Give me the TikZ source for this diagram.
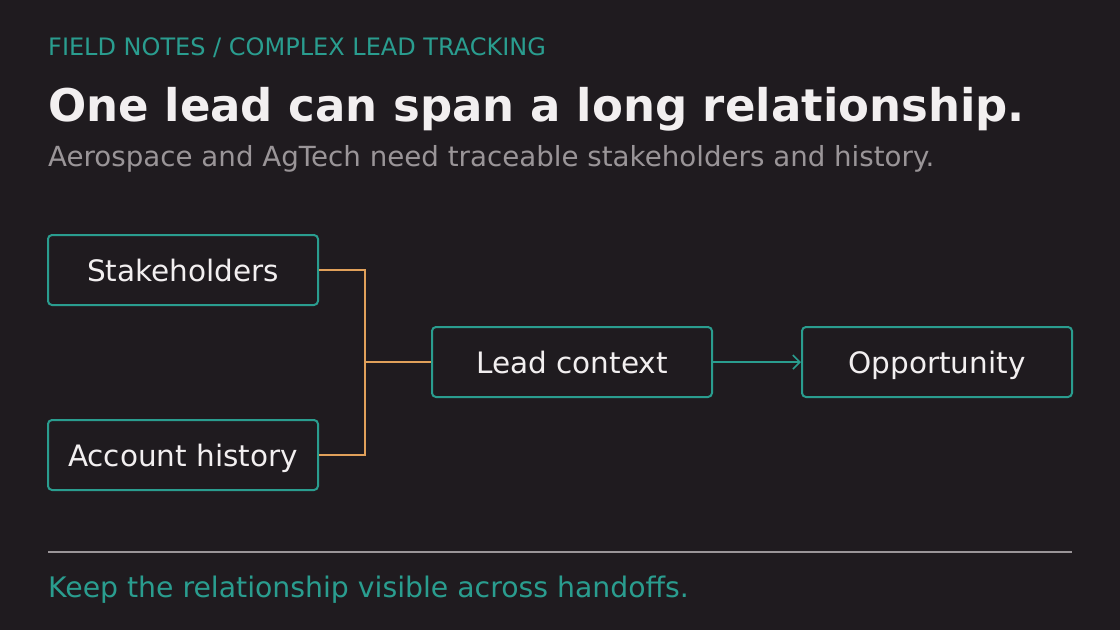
\documentclass[tikz,border=0pt]{standalone}
\usepackage{fontspec}
\setmainfont{DejaVu Sans}
\usetikzlibrary{arrows.meta,positioning}
\definecolor{nbg}{HTML}{1F1B1F}
\definecolor{nteal}{HTML}{2A9D8F}
\definecolor{norange}{HTML}{E0A05A}
\definecolor{ngray}{HTML}{9A9598}
\definecolor{nwhite}{HTML}{F2EFF0}

\begin{document}
\begin{tikzpicture}[x=1pt,y=-1pt,
  box/.style={draw=nteal,line width=2pt,rounded corners=4pt,minimum width=270pt,
              minimum height=70pt,inner sep=0pt,text=nwhite,text height=24pt,text depth=2pt,
              font=\fontsize{29.5}{32}\selectfont},
  txt/.style={anchor=base west,inner sep=0pt},
  link/.style={draw=norange,line width=1.6pt}
]
\fill[nbg] (0,0) rectangle (1120,630);
\useasboundingbox (0,0) rectangle (1120,630);

% ---- Heading ------------------------------------------------
\node[txt,text=nteal,font=\fontsize{24}{26}\selectfont] (kicker) at (48,55)
  {FIELD NOTES / COMPLEX LEAD TRACKING};
\node[txt,text=nwhite,font=\fontsize{45}{50}\selectfont\bfseries] (title) at (48,121)
  {One lead can span a long relationship.};
\node[txt,text=ngray,font=\fontsize{27.7}{30}\selectfont] (sub) at (48,166)
  {Aerospace and AgTech need traceable stakeholders and history.};

% ---- Boxes --------------------------------------------------
\node[box] (stake) at (183,270) {Stakeholders};
\node[box] (hist)  at (183,455) {Account history};
\node[box,minimum width=280pt] (lead) at (572,362) {Lead context};
\node[box] (opp)   at (937,362) {Opportunity};

% ---- Connectors ---------------------------------------------
\coordinate (join) at (365,362);
\draw[link] (stake.east) -| (join);
\draw[link] (hist.east) -| (join);
\draw[link] (join) -- (lead.west);
\draw[nteal,line width=1.6pt,-{Straight Barb[length=7pt,width=14pt]}] (lead) -- (opp);

% ---- Footer -------------------------------------------------
\draw[ngray,line width=1.6pt] (48,552) coordinate (rl) -- (1072,552) coordinate (rr);
\node[txt,text=nteal,font=\fontsize{28.3}{31}\selectfont] (foot) at (48,597)
  {Keep the relationship visible across handoffs.};

\end{tikzpicture}
\end{document}
